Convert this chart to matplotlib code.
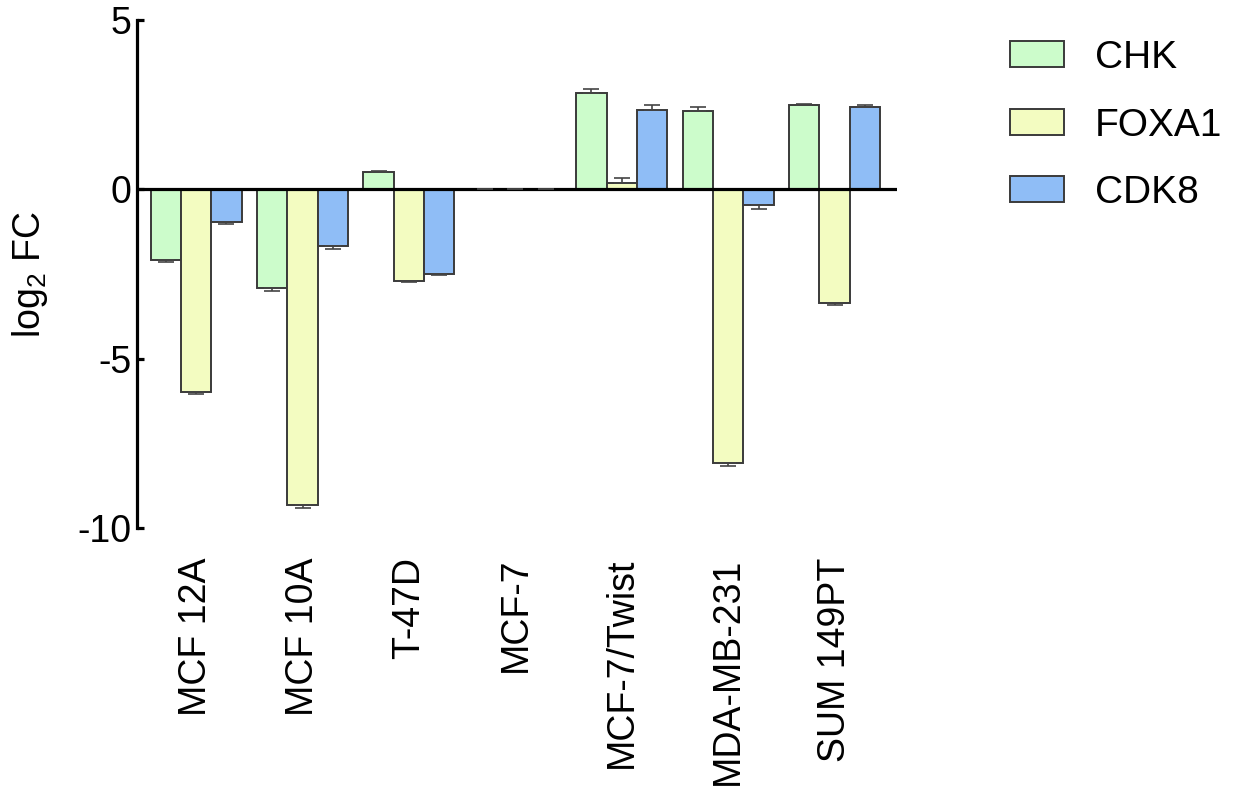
import matplotlib

matplotlib.use("Agg")
import matplotlib.pyplot as plt
import numpy as np

plt.rcParams["font.family"] = ["Liberation Sans", "DejaVu Sans"]
plt.rcParams["mathtext.default"] = "regular"

cell_lines = ["MCF 12A", "MCF 10A", "T-47D", "MCF-7", "MCF-7/Twist", "MDA-MB-231", "SUM 149PT"]

chk = [-2.09, -2.92, 0.50, 0.0, 2.85, 2.31, 2.48]
chk_err = [0.05, 0.09, 0.03, 0.0, 0.12, 0.11, 0.05]
foxa1 = [-5.99, -9.32, -2.71, 0.0, 0.20, -8.08, -3.36]
foxa1_err = [0.05, 0.10, 0.03, 0.0, 0.15, 0.10, 0.06]
cdk8 = [-0.97, -1.68, -2.51, 0.0, 2.35, -0.47, 2.42]
cdk8_err = [0.05, 0.09, 0.03, 0.0, 0.13, 0.10, 0.06]

SERIES = [
    ("CHK", chk, chk_err, "#ccfccb"),
    ("FOXA1", foxa1, foxa1_err, "#f3fcc1"),
    ("CDK8", cdk8, cdk8_err, "#8fbdf6"),
]
EDGE = "#3a3a3a"
BAR_W = 0.285
FS = 27


def one_sided(vals, errs):
    """Error bars only extend away from zero (up for positive, down for negative)."""
    vals, errs = np.asarray(vals), np.asarray(errs)
    lower = np.where(vals < 0, errs, 0.0)
    upper = np.where(vals >= 0, errs, 0.0)
    return np.vstack([lower, upper])


fig = plt.figure(figsize=(12.46, 7.92), dpi=100)
ax = fig.add_axes([0.11, 0.3333, 0.61, 0.6414])

x = np.arange(len(cell_lines))
for i, (name, vals, errs, color) in enumerate(SERIES):
    pos = x + (i - 1) * BAR_W
    ax.bar(pos, vals, width=BAR_W, color=color, edgecolor=EDGE, linewidth=1.4,
           label=name, zorder=2)
    ax.errorbar(pos, vals, yerr=one_sided(vals, errs), fmt="none", ecolor="#444444",
                elinewidth=1.2, capsize=5.5, capthick=1.2, zorder=3)

ax.axhline(0, color="black", linewidth=2.3, zorder=2.5)

ax.set_xlim(-0.555, 6.587)
ax.set_ylim(-10, 5)
ax.set_yticks([5, 0, -5, -10])
ax.set_yticklabels(["5", "0", "-5", "-10"])
ax.set_xticks(x)
ax.set_xticklabels(cell_lines, rotation=90, va="top", ha="center")

for side in ("top", "right", "bottom"):
    ax.spines[side].set_visible(False)
ax.spines["left"].set_linewidth(2.3)
ax.tick_params(axis="y", direction="in", length=5, width=2.3, pad=4, labelsize=FS)
ax.tick_params(axis="x", length=0, pad=21, labelsize=FS)

ax.set_ylabel("log$_2$ FC", fontsize=FS)
ax.yaxis.set_label_coords(-0.114, 0.5)

fig.legend(loc="upper left", bbox_to_anchor=(1010 / 1246, 1 - 40 / 792), frameon=False,
           fontsize=28, handlelength=1.38, handleheight=0.66, handletextpad=0.8,
           labelspacing=0.81, borderpad=0, borderaxespad=0)

fig.savefig("out.png", dpi=100)
